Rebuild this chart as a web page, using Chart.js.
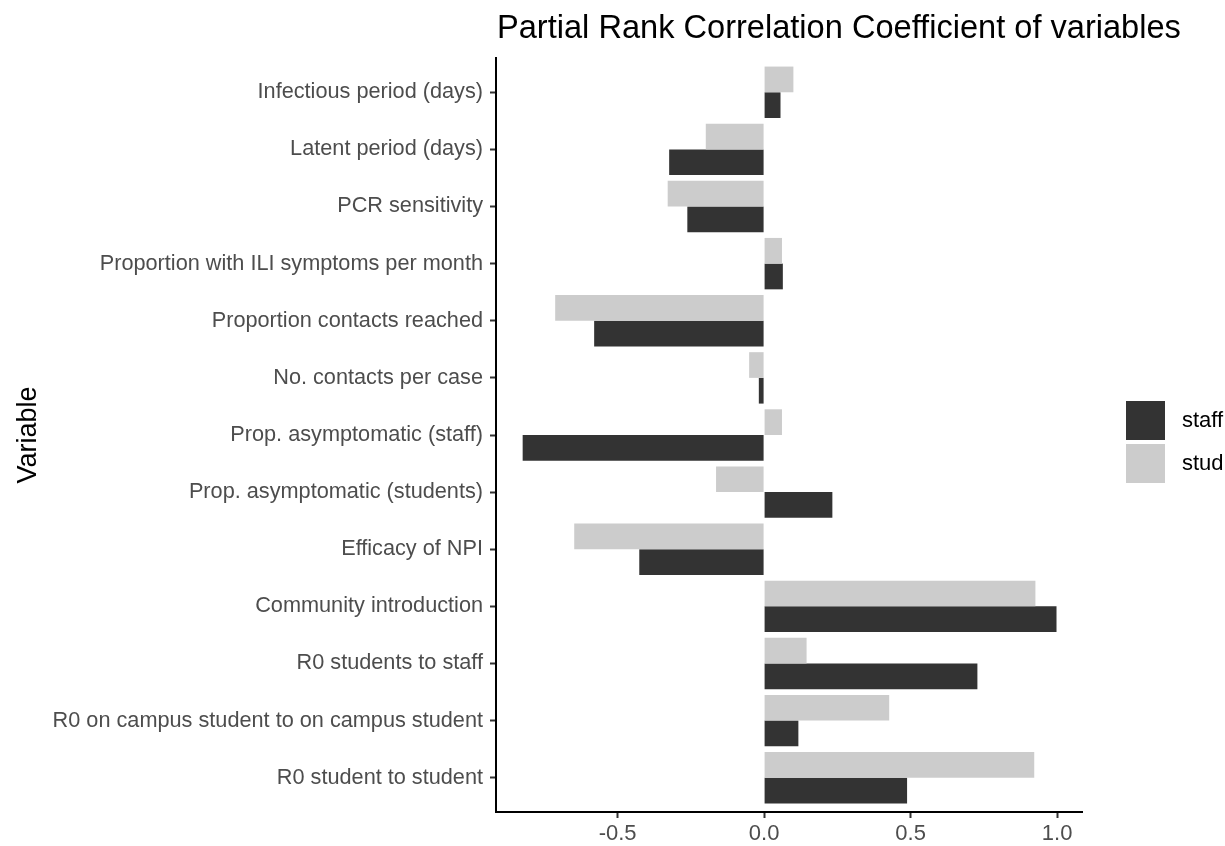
<!DOCTYPE html>
<html>
<head>
<meta charset="utf-8">
<title>PRCC</title>
<script src="https://cdn.jsdelivr.net/npm/chart.js@4.4.1/dist/chart.umd.min.js"></script>
<style>
  html, body { margin: 0; padding: 0; background: #fff; }
  #wrap { width: 1225px; height: 846px; position: relative; }
</style>
</head>
<body>
<div id="wrap"><canvas id="chartPrcc"></canvas></div>
<script>
// categorías de arriba hacia abajo
const VARIABLES = [
  'Infectious period (days)',
  'Latent period (days)',
  'PCR sensitivity',
  'Proportion with ILI symptoms per month',
  'Proportion contacts reached',
  'No. contacts per case',
  'Prop. asymptomatic (staff)',
  'Prop. asymptomatic (students)',
  'Efficacy of NPI',
  'Community introduction',
  'R0 students to staff',
  'R0 on campus student to on campus student',
  'R0 student to student'
];
const STUD  = [0.100, -0.199, -0.329, 0.061, -0.713, -0.051, 0.061, -0.164, -0.648, 0.926, 0.145, 0.427, 0.922];
const STAFF = [0.056, -0.324, -0.262, 0.064, -0.580, -0.018, -0.824, 0.233, -0.426, 0.998, 0.728, 0.117, 0.488];
const X_TICKS = [-0.5, 0.0, 0.5, 1.0];
const TITULO = 'Partial Rank Correlation Coefficient of variables';

const FONT = '"Liberation Sans", Arial, sans-serif';
const COL_STAFF = '#333333';
const COL_STUD  = '#cccccc';

// título alineado al panel y leyenda estilo ggplot a la derecha
const ggPlugin = {
  id: 'ggExtras',
  afterDraw(chart) {
    const ctx = chart.ctx;
    const area = chart.chartArea;
    ctx.save();
    ctx.fillStyle = '#000';
    ctx.font = '32.6px ' + FONT;
    ctx.textBaseline = 'alphabetic';
    ctx.textAlign = 'left';
    ctx.fillText(TITULO, area.left + 1, 38);

    const items = [{ label: 'staff', color: COL_STAFF }, { label: 'stud', color: COL_STUD }];
    const x = area.right + 44;
    let y = 401;
    ctx.font = '22px ' + FONT;
    ctx.textBaseline = 'middle';
    items.forEach(it => {
      ctx.fillStyle = it.color;
      ctx.fillRect(x, y, 39, 39);
      ctx.fillStyle = '#000';
      ctx.fillText(it.label, x + 56, y + 20);
      y += 43;
    });
    ctx.restore();
  }
};

const rows = VARIABLES.map((_, i) => i + 1);

new Chart(document.getElementById('chartPrcc'), {
  type: 'bar',
  data: {
    datasets: [
      {
        label: 'stud',
        data: rows.map((r, i) => ({ x: STUD[i], y: r })),
        backgroundColor: COL_STUD,
        borderWidth: 0,
      },
      {
        label: 'staff',
        data: rows.map((r, i) => ({ x: STAFF[i], y: r })),
        backgroundColor: COL_STAFF,
        borderWidth: 0,
      },
    ],
  },
  options: {
    indexAxis: 'y',
    responsive: true,
    maintainAspectRatio: false,
    animation: false,
    categoryPercentage: 0.9,
    barPercentage: 1.0,
    layout: { padding: { left: 0, right: 143, top: 58, bottom: 0 } },
    plugins: {
      legend: { display: false },
      tooltip: { enabled: false },
      title: { display: false },
    },
    scales: {
      x: {
        type: 'linear',
        min: -0.915,
        max: 1.085,
        afterBuildTicks: s => { s.ticks = X_TICKS.map(v => ({ value: v })); },
        afterFit: s => { s.height = 34; },
        ticks: {
          color: '#4d4d4d',
          padding: 3,
          font: { family: FONT, size: 22 },
          callback: v => v.toFixed(1),
        },
        grid: { drawOnChartArea: false, drawTicks: true, tickLength: 6, tickColor: '#333', tickWidth: 2 },
        border: { display: true, color: '#000', width: 2 },
      },
      y: {
        type: 'linear',
        reverse: true,
        offset: false,
        min: 0.4,
        max: 13.6,
        afterBuildTicks: s => { s.ticks = rows.map(v => ({ value: v })); },
        afterFit: s => { s.width = 496; },
        ticks: {
          color: '#4d4d4d',
          padding: 7,
          autoSkip: false,
          font: { family: FONT, size: 21.7 },
          callback: v => VARIABLES[v - 1] || '',
        },
        grid: { offset: false, drawOnChartArea: false, drawTicks: true, tickLength: 6, tickColor: '#333', tickWidth: 2 },
        border: { display: true, color: '#000', width: 2 },
        title: {
          display: true,
          text: 'Variable',
          color: '#000',
          font: { family: FONT, size: 27, lineHeight: 1.2 },
          padding: { top: 12, bottom: 0 },
        },
      },
    },
  },
  plugins: [ggPlugin],
});
</script>
</body>
</html>
